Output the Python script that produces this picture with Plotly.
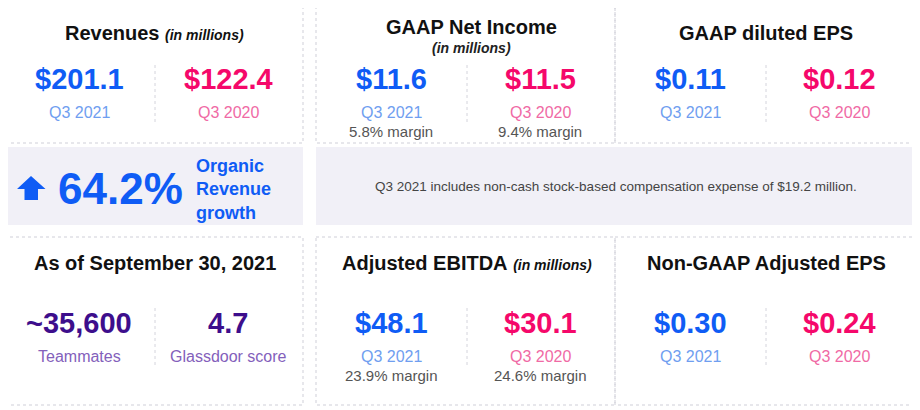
import plotly.graph_objects as go

# ---------------- data ----------------
panel_titles = ["Revenues", "GAAP Net Income", "GAAP diluted EPS",
                "As of September 30, 2021", "Adjusted EBITDA", "Non-GAAP Adjusted EPS"]
title_notes = ["(in millions)", "(in millions)", "", "", "(in millions)", ""]
values_2021 = ["$201.1", "$11.6", "$0.11", "~35,600", "$48.1", "$0.30"]
values_2020 = ["$122.4", "$11.5", "$0.12", "4.7", "$30.1", "$0.24"]
labels_2021 = ["Q3 2021", "Q3 2021", "Q3 2021", "Teammates", "Q3 2021", "Q3 2021"]
labels_2020 = ["Q3 2020", "Q3 2020", "Q3 2020", "Glassdoor score", "Q3 2020", "Q3 2020"]
margins_2021 = ["", "5.8% margin", "", "", "23.9% margin", ""]
margins_2020 = ["", "9.4% margin", "", "", "24.6% margin", ""]
growth_value = "64.2%"
growth_label = ["Organic", "Revenue", "growth"]
footnote = "Q3 2021 includes non-cash stock-based compensation expense of $19.2 million."

# ---------------- styling ----------------
FONT = "Liberation Sans, Arial, Helvetica, sans-serif"
BLUE, PINK = "#0f5cf5", "#f5086a"
BLUE_L, PINK_L = "#6f9ef0", "#f06aa5"
PURPLE, PURPLE_L = "#3d0e8c", "#8360bb"
BORDER = "#cfcfd8"

# panel boxes: (x0, x1, y0, y1) in page pixels
boxes = [(4, 303, 5, 143), (316, 615, 5, 143), (615, 915, 5, 143),
         (4, 303, 237, 405), (316, 615, 237, 405), (615, 915, 237, 405)]

fig = go.Figure()
shapes = []
ann = []

# middle band backgrounds
for (x0, x1) in [(4, 303), (316, 915)]:
    shapes.append(dict(type="rect", x0=x0, x1=x1, y0=147, y1=225,
                       fillcolor="#f1f0f7", line=dict(width=0), layer="below"))

for i, (x0, x1, y0, y1) in enumerate(boxes):
    shapes.append(dict(type="rect", x0=x0, x1=x1, y0=y0, y1=y1,
                       line=dict(color=BORDER, width=1, dash="dot"),
                       fillcolor="rgba(0,0,0,0)"))
    top = i < 3
    cx = (x0 + x1) / 2
    lx, rx = x0 + 74, x0 + 224
    divx = x0 + 151
    c1, c2 = (PURPLE, PURPLE) if i == 3 else (BLUE, PINK)
    l1, l2 = (PURPLE_L, PURPLE_L) if i == 3 else (BLUE_L, PINK_L)

    base = 0 if top else 230
    if i == 1:
        ann.append(dict(x=cx + 6, y=base + 27, text="<b>" + panel_titles[i] + "</b>",
                        font=dict(size=20, color="#111111", family=FONT)))
        ann.append(dict(x=cx + 6, y=base + 48, text="<b><i>" + title_notes[i] + "</i></b>",
                        font=dict(size=14, color="#222222", family=FONT)))
    else:
        t = "<b>" + panel_titles[i] + "</b>"
        if title_notes[i]:
            t += " <b><i><span style='font-size:14px'>" + title_notes[i] + "</span></i></b>"
        ann.append(dict(x=cx + 1, y=base + 33, text=t,
                        font=dict(size=20, color="#111111", family=FONT)))
    vy = base + (79 if top else 93)
    ly = base + (112 if top else 126)
    my = base + (131 if top else 145)
    ann.append(dict(x=lx + 1, y=vy, text="<b>" + values_2021[i] + "</b>",
                    font=dict(size=29, color=c1, family=FONT)))
    ann.append(dict(x=rx, y=vy, text="<b>" + values_2020[i] + "</b>",
                    font=dict(size=29, color=c2, family=FONT)))
    ann.append(dict(x=lx + 1, y=ly, text=labels_2021[i],
                    font=dict(size=16, color=l1, family=FONT)))
    ann.append(dict(x=rx, y=ly, text=labels_2020[i],
                    font=dict(size=16, color=l2, family=FONT)))
    if margins_2021[i]:
        ann.append(dict(x=lx + 1, y=my, text=margins_2021[i],
                        font=dict(size=15, color="#555555", family=FONT)))
        ann.append(dict(x=rx, y=my, text=margins_2020[i],
                        font=dict(size=15, color="#555555", family=FONT)))
    shapes.append(dict(type="line", x0=divx, x1=divx,
                       y0=base + (65 if top else 78), y1=base + (122 if top else 135),
                       line=dict(color="#d4d4dc", width=1, dash="dot")))

# growth block
shapes.append(dict(type="path",
                   path="M 31 176 L 17 189 L 24.5 189 L 24.5 200 L 38 200 L 38 189 L 45.5 189 Z",
                   fillcolor=BLUE, line=dict(width=0)))
ann.append(dict(x=56, y=188, xanchor="left", text="<b>" + growth_value + "</b>",
                font=dict(size=44, color=BLUE, family=FONT)))
ann.append(dict(x=194, y=189, xanchor="left", align="left",
                text="<br>".join("<b>" + s + "</b>" for s in growth_label),
                font=dict(size=18, color=BLUE, family=FONT)))
ann.append(dict(x=616, y=186, text=footnote,
                font=dict(size=13.5, color="#444444", family=FONT)))

for a in ann:
    a.setdefault("xanchor", "center")
    a.setdefault("yanchor", "middle")
    a.update(xref="x", yref="y", showarrow=False)

# the page body has an 8px margin: shift the ranges so data units equal page pixels
OFF = 8
fig.update_layout(
    width=920, height=410, margin=dict(l=0, r=0, t=0, b=0),
    paper_bgcolor="white", plot_bgcolor="white",
    xaxis=dict(range=[OFF, 920 + OFF], visible=False, fixedrange=True),
    yaxis=dict(range=[410 + OFF, OFF], visible=False, fixedrange=True),
    shapes=shapes, annotations=ann, showlegend=False,
)
fig.write_html("out.html")
